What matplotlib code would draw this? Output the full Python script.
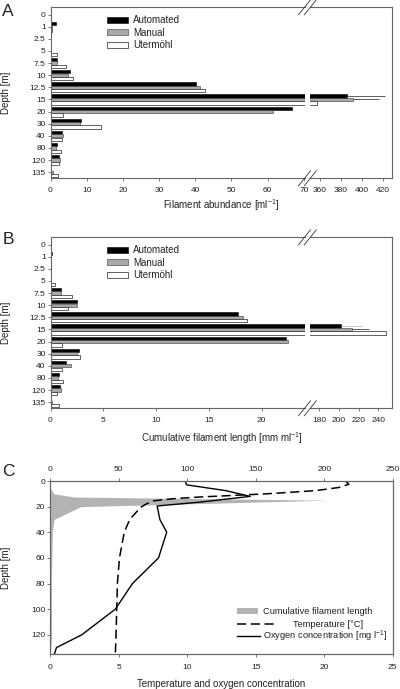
import matplotlib
matplotlib.use('Agg')
import matplotlib.pyplot as plt
from matplotlib.lines import Line2D
from matplotlib.patches import Patch, Rectangle
import numpy as np

plt.rcParams['font.family'] = ['Liberation Sans', 'DejaVu Sans']
plt.rcParams['mathtext.fontset'] = 'custom'
plt.rcParams['mathtext.rm'] = 'Liberation Sans'
plt.rcParams['mathtext.default'] = 'regular'

# sampling depths [m]
depths = [0, 1, 2.5, 5, 7.5, 10, 12.5, 15, 20, 30, 40, 80, 120, 135]
depth_labels = [f'{d:g}' for d in depths]

# panel A: filament abundance [ml-1]
abund_auto = [0.2, 1.5, 0, 0, 1.9, 5.3, 40.3, 386, 66.8, 8.3, 3.2, 1.7, 2.4, 0]
abund_manual = [0.1, 0.3, 0, 0.2, 1.75, 4.7, 41.3, 391, 61.4, 8.2, 3.5, 1.4, 2.5, 0.7]
abund_uterm = [0.2, 0.4, 0, 1.7, 4.4, 6.1, 42.7, 357.4, 3.5, 13.9, 3.3, 3.0, 2.3, 2.1]
abund_auto_err = [0, 0, 0, 0, 0, 0, 0, 36.5, 0, 0, 0, 0, 0, 0]
abund_manual_err = [0, 0, 0, 0, 0, 0, 0, 25, 0, 0, 0, 0, 0, 0]

# panel B: cumulative filament length [mm ml-1]
cum_auto = [0.05, 0.1, 0, 0, 1.04, 2.52, 17.8, 202.2, 22.3, 2.68, 1.5, 0.79, 0.91, 0]
cum_manual = [0.05, 0.05, 0, 0, 1.04, 2.52, 18.2, 213, 22.5, 2.55, 1.9, 0.73, 0.95, 0.16]
cum_uterm = [0.05, 0.05, 0, 0.47, 2.08, 1.67, 18.6, 247.7, 1.1, 2.84, 1.1, 1.14, 0.63, 0.79]
cum_auto_err = [0, 0, 0, 0, 0, 0, 0, 21.5, 0, 0, 0, 0, 0, 0]
cum_manual_err = [0, 0, 0, 0, 0, 0, 0, 17.8, 0, 0, 0, 0, 0, 0]

# panel C: profiles
temp_depth = [0, 2.5, 5, 7.5, 10, 12.5, 13.8, 15.5, 18, 20.5, 30, 40, 60, 80, 100, 120, 135]
temp = [21.55, 21.8, 21.1, 19.4, 15.8, 10.9, 9.0, 7.5, 7.0, 6.6, 5.8, 5.4, 5.05, 4.9, 4.85, 4.8, 4.75]
o2_depth = [0, 3, 4.5, 7.5, 12, 16.5, 19.5, 30, 40, 60, 80, 100, 120, 130, 135]
o2 = [9.85, 9.95, 10.9, 12.8, 14.6, 10.9, 7.8, 8.0, 8.5, 7.9, 6.0, 4.75, 2.3, 0.45, 0.3]

W, H = 400, 689
SPINE = '#666666'
TXT = '#222222'
GRAY = '#a8a8a8'
FS = 7          # labels / legends
TFS = 6         # tick labels


def box(x0, y0, x1, y1):
    return [x0 / W, 1 - y1 / H, (x1 - x0) / W, (y1 - y0) / H]


def fx(x):
    return x / W


def fy(y):
    return 1 - y / H


def style(ax):
    for s in ax.spines.values():
        s.set_color(SPINE)
        s.set_linewidth(0.8)
    ax.tick_params(direction='out', length=2.5, width=0.6, color=SPINE,
                   labelsize=TFS, labelcolor=TXT)
    ax.tick_params(axis='x', pad=3.5)
    ax.tick_params(axis='y', pad=1)


def bar_panel(ax_l, ax_r, auto, manual, uterm, auto_err, man_err,
              llim, rlim, lticks, rticks, err_cols):
    y = np.arange(len(depths))
    zeros = np.zeros(len(depths))
    h, off = 0.27, 0.28
    for ax in (ax_l, ax_r):
        ax.barh(y - off, auto, height=h, color='black', edgecolor='black', linewidth=0.4,
                xerr=[zeros, auto_err], error_kw=dict(ecolor=err_cols[0], elinewidth=0.6, capsize=0))
        ax.barh(y, manual, height=h, color=GRAY, edgecolor='#333333', linewidth=0.4,
                xerr=[zeros, man_err], error_kw=dict(ecolor=err_cols[1], elinewidth=0.6, capsize=0))
        ax.barh(y + off, uterm, height=h, color='white', edgecolor='#222222', linewidth=0.5)
        ax.set_ylim(13.5, -0.6)
        style(ax)
    ax_l.set_xlim(*llim)
    ax_r.set_xlim(*rlim)
    ax_l.set_xticks(lticks)
    ax_r.set_xticks(rticks)
    ax_l.set_yticks(y, depth_labels)
    ax_r.set_yticks([])
    ax_l.spines['right'].set_visible(False)
    ax_r.spines['left'].set_visible(False)


def slash(xc, yc):
    fig.add_artist(Line2D([fx(xc - 6), fx(xc + 6)], [fy(yc + 7.5), fy(yc - 7.5)],
                          transform=fig.transFigure, color='#333333', lw=0.6))


def breaks(ytop, ybot):
    for yc in (ytop, ybot):
        slash(304.5, yc)
        slash(310.3, yc)


fig = plt.figure(figsize=(4, 6.89), dpi=100)

# ---- panel A
axA1 = fig.add_axes(box(50.5, 7.3, 304.5, 178.3))
axA2 = fig.add_axes(box(310.3, 7.3, 392.3, 178.3))
bar_panel(axA1, axA2, abund_auto, abund_manual, abund_uterm, abund_auto_err, abund_manual_err,
          (0, 70.2), (350.7, 429), range(0, 71, 10), range(360, 421, 20), ('#444444', '#444444'))
breaks(7.3, 178.3)

# ---- panel B
axB1 = fig.add_axes(box(50.5, 237.3, 304.5, 408.3))
axB2 = fig.add_axes(box(310.3, 237.3, 392.3, 408.3))
bar_panel(axB1, axB2, cum_auto, cum_manual, cum_uterm, cum_auto_err, cum_manual_err,
          (0, 24.05), (171.2, 254), range(0, 21, 5), range(180, 241, 20), ('#bbbbbb', '#444444'))
breaks(237.3, 408.3)

handles = [Patch(facecolor='black', edgecolor='black', lw=0.4),
           Patch(facecolor=GRAY, edgecolor='#333333', lw=0.4),
           Patch(facecolor='white', edgecolor='#222222', lw=0.5)]
for ax in (axA1, axB1):
    ax.legend(handles, ['Automated', 'Manual', 'Utermöhl'], loc='upper left',
              bbox_to_anchor=((107 - 50.5) / 254, 1 - 8.0 / 171), borderaxespad=0, borderpad=0,
              frameon=False, fontsize=FS, handlelength=2.15, handleheight=0.62,
              handletextpad=0.55, labelspacing=0.25, labelcolor=TXT)

# ---- panel C
axC = fig.add_axes(box(50.3, 481, 392.7, 654))
axCt = axC.twiny()
axCt.fill_betweenx(depths, 0, cum_auto, color='#b3b3b3', lw=0)
axC.plot(temp, temp_depth, color='black', lw=1.1, linestyle=(0, (6, 3)))
axC.plot(o2, o2_depth, color='black', lw=1.0)
axC.set_zorder(2)
axC.patch.set_visible(False)
axC.set_xlim(0, 25)
axCt.set_xlim(0, 250)
axC.set_ylim(135, 0)
axC.set_xticks(range(0, 26, 5))
axCt.set_xticks(range(0, 251, 50))
axC.set_yticks(range(0, 121, 20))
for ax in (axC, axCt):
    style(ax)
axC.tick_params(axis='x', pad=4.5)
axCt.tick_params(axis='x', pad=3)

# legend of panel C
leg_y = [611, 624.3, 636]
fig.add_artist(Rectangle((fx(237), fy(614.3)), (258 - 237) / W, 6.6 / H,
                         transform=fig.transFigure, facecolor='#b3b3b3', lw=0))
fig.add_artist(Line2D([fx(237), fx(278)], [fy(leg_y[1])] * 2, transform=fig.transFigure,
                      color='black', lw=1.1, linestyle=(0, (6, 3))))
fig.add_artist(Line2D([fx(237), fx(260)], [fy(leg_y[2])] * 2, transform=fig.transFigure,
                      color='black', lw=1.0))
fig.text(fx(263.3), fy(leg_y[0]), 'Cumulative filament length', fontsize=6.7, va='center', color=TXT)
fig.text(fx(293.3), fy(leg_y[1]), 'Temperature [°C]', fontsize=6.7, va='center', color=TXT)
fig.text(fx(263.3), fy(leg_y[2]), 'Oxygen concentration [mg l$^{-1}$]', fontsize=6.7, va='center', color=TXT)

# axis labels and panel letters
fig.text(fx(221.4), fy(205), 'Filament abundance [ml$^{-1}$]', fontsize=FS, ha='center', va='center', color=TXT)
fig.text(fx(221.4), fy(438.3), 'Cumulative filament length [mm ml$^{-1}$]', fontsize=FS, ha='center', va='center', color=TXT)
fig.text(fx(221.4), fy(683.7), 'Temperature and oxygen concentration', fontsize=FS, ha='center', va='center', color=TXT)
for yc in (92.8, 322.8, 567.5):
    fig.text(fx(6), fy(yc), 'Depth [m]', fontsize=FS, rotation=90, ha='center', va='center', color=TXT)
for letter, yc in (('A', 11), ('B', 239), ('C', 471.3)):
    fig.text(fx(8), fy(yc), letter, fontsize=12.5, ha='center', va='center', color=TXT)

fig.savefig('out.png', dpi=100)
